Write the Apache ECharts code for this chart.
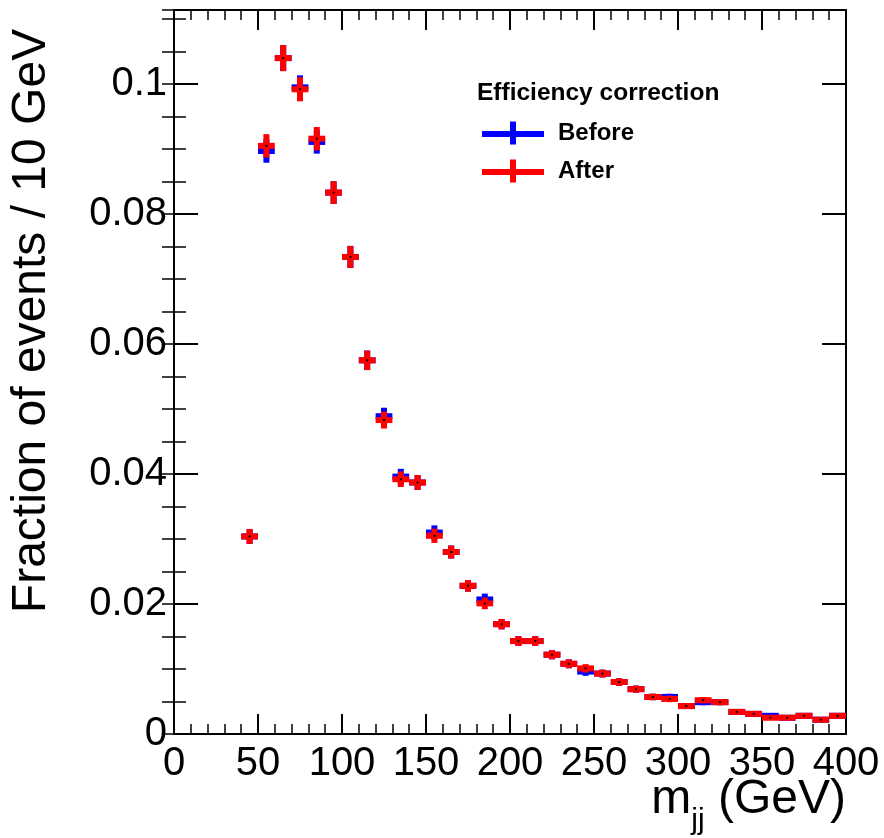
<!DOCTYPE html>
<html>
<head>
<meta charset="utf-8">
<script src="https://cdn.jsdelivr.net/npm/echarts@6/dist/echarts.min.js"></script>
<style>
html,body{margin:0;padding:0;background:#fff;}
#chart{width:884px;height:838px;}
</style>
</head>
<body>
<div id="chart"></div>
<script>
// Bin centres (GeV), 10 GeV bins
const binCenters = [45,55,65,75,85,95,105,115,125,135,145,155,165,175,185,195,205,215,225,235,245,255,265,275,285,295,305,315,325,335,345,355,365,375,385,395];
// "After" efficiency correction
const afterVals = [0.0304,0.0905,0.1040,0.0992,0.0916,0.0833,0.0734,0.0575,0.0483,0.0392,0.0387,0.0305,0.0280,0.0228,0.0201,0.0169,0.0143,0.0143,0.0122,0.0108,0.0101,0.0093,0.0080,0.0069,0.0057,0.0054,0.0043,0.0052,0.0049,0.0034,0.0031,0.0025,0.0025,0.0028,0.0022,0.0028];
const afterErr = [0.00115,0.0018,0.0020,0.00185,0.0018,0.00175,0.0017,0.0015,0.0013,0.0012,0.00115,0.0011,0.0010,0.0009,0.0009,0.0008,0.00075,0.00075,0.0007,0.00068,0.00065,0.0006,0.00058,0.00055,0.0005,0.0005,0.00045,0.00048,0.00047,0.0004,0.0004,0.00035,0.00035,0.00037,0.00033,0.00037];
// "Before" efficiency correction
const beforeVals = [0.0304,0.0897,0.1040,0.0995,0.0911,0.0833,0.0734,0.0575,0.0489,0.0396,0.0387,0.0310,0.0280,0.0228,0.0207,0.0169,0.0143,0.0143,0.0122,0.0108,0.0096,0.0093,0.0080,0.0069,0.0057,0.0057,0.0043,0.0049,0.0049,0.0034,0.0031,0.0028,0.0025,0.0028,0.0022,0.0028];
const beforeErr = [0.00115,0.0018,0.0020,0.00185,0.0018,0.00175,0.0017,0.0015,0.0013,0.0012,0.00115,0.0011,0.0010,0.0009,0.0009,0.0008,0.00075,0.00075,0.0007,0.00068,0.00065,0.0006,0.00058,0.00055,0.0005,0.0005,0.00045,0.00048,0.00047,0.0004,0.0004,0.00035,0.00035,0.00037,0.00033,0.00037];
const binHalfWidth = 5;
const xTicks = [0,50,100,150,200,250,300,350,400];
const yTicks = [0,0.02,0.04,0.06,0.08,0.1];

const FONT = "'Liberation Sans', Arial, Helvetica, sans-serif";

function makeData(vals, errs){
  return binCenters.map((c,i)=>[c, vals[i], errs[i]]);
}

function makeRender(color, dot){
  return function(params, api){
    const x = api.value(0), y = api.value(1), e = api.value(2);
    const l = api.coord([x - binHalfWidth, y]);
    const r = api.coord([x + binHalfWidth, y]);
    const t = api.coord([x, y + e]);
    const b = api.coord([x, y - e]);
    const c = api.coord([x, y]);
    const children = [
      {type:'line', shape:{x1:l[0], y1:l[1], x2:r[0], y2:r[1]}, style:{stroke:color, lineWidth:6, lineCap:'butt'}},
      {type:'line', shape:{x1:t[0], y1:t[1], x2:b[0], y2:b[1]}, style:{stroke:color, lineWidth:6, lineCap:'butt'}}
    ];
    if (dot) children.push({type:'rect', shape:{x:c[0]-1, y:c[1]-1, width:2, height:2}, style:{fill:'#000'}});
    return {type:'group', children};
  };
}

const chart = echarts.init(document.getElementById('chart'), null, {renderer:'canvas'});

const axisLineStyle = {color:'#000', width:2};
const xBase = {
  type:'value', min:xTicks[0], max:xTicks[xTicks.length-1], interval:xTicks[1]-xTicks[0],
  axisLine:{show:true, onZero:false, lineStyle:axisLineStyle},
  axisTick:{show:true, inside:true, length:20, lineStyle:{color:'#000', width:2}},
  minorTick:{show:true, splitNumber:5, length:10, lineStyle:{color:'#000', width:1.5}},
  splitLine:{show:false}, minorSplitLine:{show:false}
};
const yMax = 0.1114;

const option = {
  backgroundColor:'#fff',
  animation:false,
  grid:{left:174, right:38, top:10, bottom:104, containLabel:false, outerBoundsMode:'none'},
  title:{
    text:'Efficiency correction', left:472, top:76,
    textStyle:{fontSize:24.5, fontWeight:'bold', fontFamily:FONT, color:'#000'}
  },
  legend:{
    orient:'vertical', left:477, top:116, itemWidth:62, itemHeight:23, itemGap:14,
    icon:'path://M0,9.5L62,9.5L62,15.5L0,15.5Z M28,0L34,0L34,23L28,23Z',
    textStyle:{fontSize:24, fontWeight:'bold', fontFamily:FONT, color:'#000', padding:[0,0,0,9], lineHeight:24},
    data:['Before','After']
  },
  graphic:[
    {type:'text', right:38, top:776, z:10,
      style:{text:'{m|m}{s|jj}{g| (GeV)}', fill:'#000',
        rich:{
          m:{fontSize:48, fontFamily:FONT, fill:'#000'},
          s:{fontSize:30, fontFamily:FONT, fill:'#000', padding:[42,0,0,0]},
          g:{fontSize:48, fontFamily:FONT, fill:'#000'}
        }}}
  ],
  xAxis:[
    Object.assign({}, xBase, {
      position:'bottom',
      axisLabel:{show:true, fontSize:40, fontFamily:FONT, color:'#000', margin:10,
        formatter:v=>String(v)}
    }),
    Object.assign({}, xBase, {position:'top', axisLabel:{show:false}})
  ],
  yAxis:[
    {type:'value', position:'left', min:0, max:yMax, interval:0.02,
      axisLine:{show:true, onZero:false, lineStyle:axisLineStyle},
      axisTick:{show:true, inside:true, length:24, lineStyle:{color:'#000', width:2}},
      axisLabel:{show:true, fontSize:40, fontFamily:FONT, color:'#000', margin:7, showMaxLabel:false,
        formatter:v=>String(+v.toFixed(3))},
      splitLine:{show:false},
      name:'Fraction of events / 10 GeV', nameLocation:'middle', nameRotate:90, nameGap:118,
      nameTextStyle:{fontSize:48, fontFamily:FONT, color:'#000', padding:[0,0,0,102]}
    },
    {type:'value', position:'left', min:0, max:yMax, interval:0.005,
      axisLine:{show:false}, axisLabel:{show:false}, splitLine:{show:false},
      axisTick:{show:true, inside:true, length:12, lineStyle:{color:'#000', width:1.5}}
    },
    {type:'value', position:'right', min:0, max:yMax, interval:0.02,
      axisLine:{show:true, onZero:false, lineStyle:axisLineStyle}, axisLabel:{show:false}, splitLine:{show:false},
      axisTick:{show:true, inside:true, length:24, lineStyle:{color:'#000', width:2}}
    },
    {type:'value', position:'right', min:0, max:yMax, interval:0.005,
      axisLine:{show:false}, axisLabel:{show:false}, splitLine:{show:false},
      axisTick:{show:true, inside:true, length:12, lineStyle:{color:'#000', width:1.5}}
    }
  ],
  series:[
    {name:'Before', type:'custom', xAxisIndex:0, yAxisIndex:0, itemStyle:{color:'#0000ff'},
      renderItem:makeRender('#0000ff', false), data:makeData(beforeVals, beforeErr), encode:{x:0, y:1}},
    {name:'After', type:'custom', xAxisIndex:0, yAxisIndex:0, itemStyle:{color:'#ff0000'},
      renderItem:makeRender('#ff0000', true), data:makeData(afterVals, afterErr), encode:{x:0, y:1}}
  ]
};
chart.setOption(option);
</script>
</body>
</html>
